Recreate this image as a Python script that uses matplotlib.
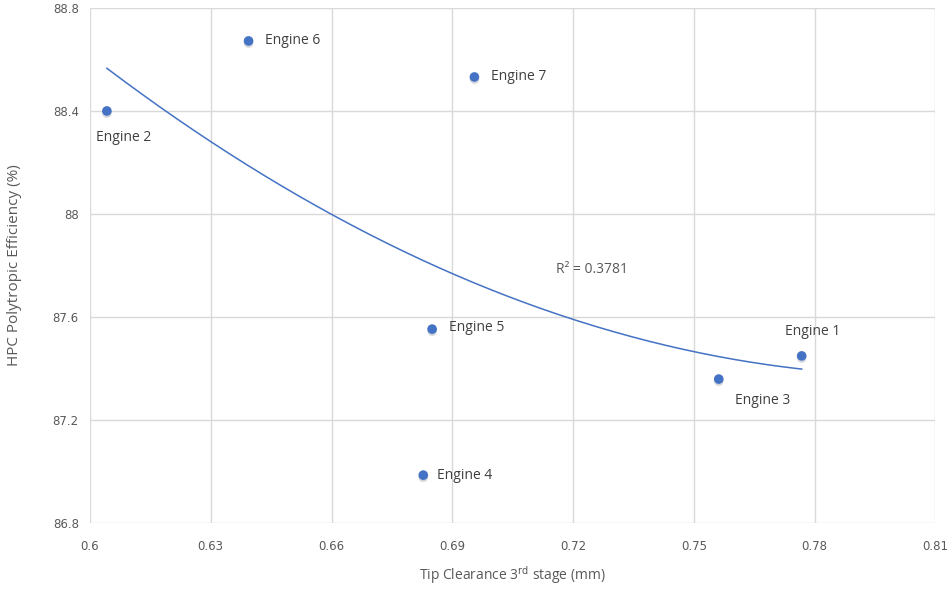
import numpy as np
import matplotlib
matplotlib.use("Agg")
import matplotlib.pyplot as plt
import matplotlib.patheffects as pe

# engine data
engines = ["Engine 1", "Engine 2", "Engine 3", "Engine 4", "Engine 5", "Engine 6", "Engine 7"]
clearance = [0.7768, 0.6042, 0.7562, 0.6828, 0.6850, 0.6394, 0.6955]
efficiency = [87.449, 88.400, 87.359, 86.986, 87.553, 88.672, 88.532]

x_ticks = [0.6, 0.63, 0.66, 0.69, 0.72, 0.75, 0.78, 0.81]
y_ticks = [86.8, 87.2, 87.6, 88.0, 88.4, 88.8]
y_tick_labels = ["86.8", "87.2", "87.6", "88", "88.4", "88.8"]

# label offsets in points (dx, dy) and alignment
label_pos = {
    "Engine 1": (-12, 12, "left", "bottom"),
    "Engine 2": (-8, -14, "left", "top"),
    "Engine 3": (12, -10, "left", "top"),
    "Engine 4": (10, 0, "left", "center"),
    "Engine 5": (12, 1, "left", "center"),
    "Engine 6": (12, 0, "left", "center"),
    "Engine 7": (12, 0, "left", "center"),
}

blue = "#4472C4"
grey_txt = "#595959"

fig = plt.figure(figsize=(9.52, 5.89), dpi=100)
ax = fig.add_axes([0.0945, 0.112, 0.888, 0.8745])

# second order polynomial trend line
coef = np.polyfit(clearance, efficiency, 2)
xs = np.linspace(min(clearance), max(clearance), 200)
ax.plot(xs, np.polyval(coef, xs), color=blue, lw=1.1, zorder=2)

ax.scatter(clearance, efficiency, s=48, color=blue, zorder=3, linewidths=0,
           path_effects=[pe.SimplePatchShadow(offset=(0, -1.5), alpha=0.18), pe.Normal()])

for name, xv, yv in zip(engines, clearance, efficiency):
    dx, dy, ha, va = label_pos[name]
    ax.annotate(name, (xv, yv), xytext=(dx, dy), textcoords="offset points",
                ha=ha, va=va, fontsize=10, color="#404040", family="Open Sans")

ax.text(0.7158, 87.783, "R² = 0.3781", fontsize=10, color=grey_txt,
        family="Open Sans", va="center", ha="left")

ax.set_xlim(0.6, 0.81)
ax.set_ylim(86.8, 88.8)
ax.set_xticks(x_ticks)
ax.set_xticklabels([f"{v:g}" for v in x_ticks])
ax.set_yticks(y_ticks)
ax.set_yticklabels(y_tick_labels)
ax.tick_params(length=0, labelsize=8.5, colors=grey_txt, pad=12)
ax.tick_params(axis="y", pad=8)
ax.grid(True, color="#d9d9d9", lw=1)
ax.set_axisbelow(True)
for s in ax.spines.values():
    s.set_visible(False)

ax.set_xlabel("Tip Clearance 3$^{\\rm rd}$ stage (mm)", fontsize=10, color=grey_txt,
              family="Open Sans", labelpad=8)
ax.set_ylabel("HPC Polytropic Efficiency (%)", fontsize=11, color=grey_txt,
              family="Open Sans", labelpad=22)

fig.savefig("out.png", dpi=100)
